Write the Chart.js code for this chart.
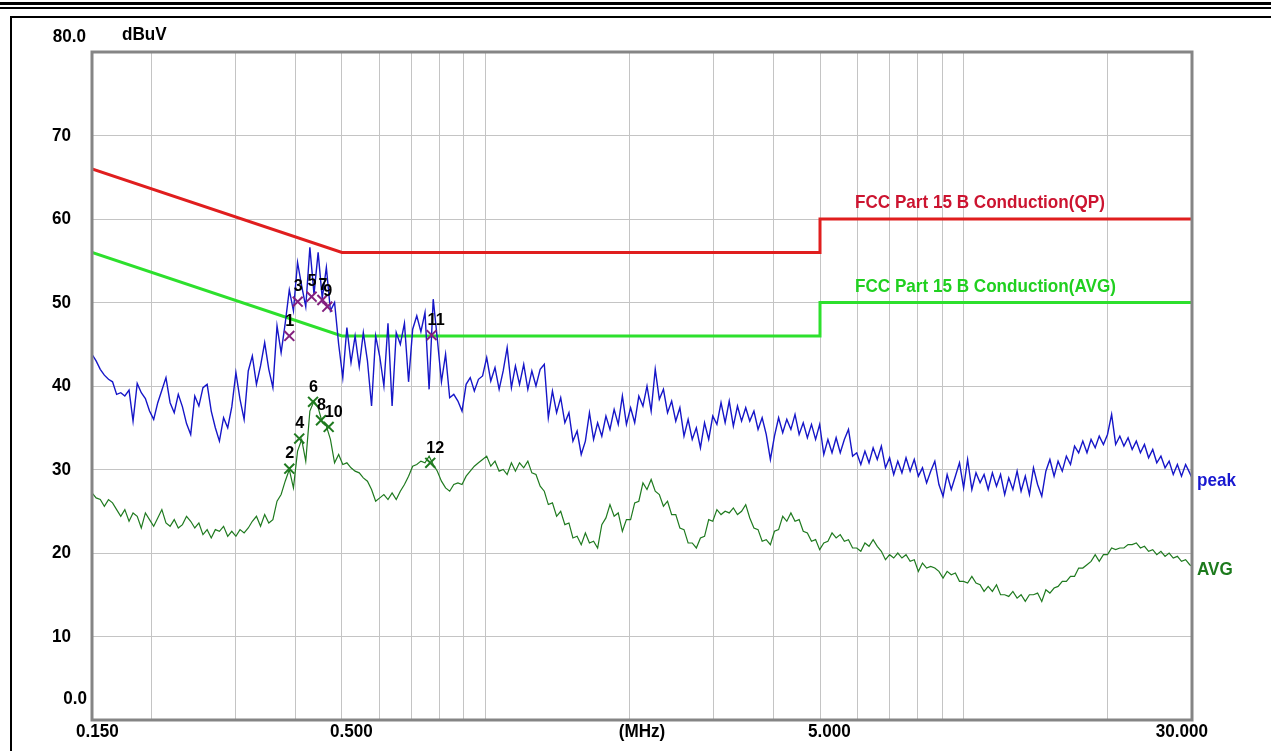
<!DOCTYPE html>
<html>
<head>
<meta charset="utf-8">
<title>Conducted emission scan</title>
<script src="https://cdn.jsdelivr.net/npm/chart.js@4/dist/chart.umd.min.js"></script>
<style>
  html, body { margin: 0; padding: 0; background: #ffffff; }
  #wrap { width: 1271px; height: 751px; position: relative; }
  canvas { display: block; }
</style>
</head>
<body>
<div id="wrap"><canvas id="scan" width="1271" height="751"></canvas></div>
<script>
// Sweep frequencies (MHz) shared by both detector traces
const sweepMHz = [
  0.1500,0.1530,0.1561,0.1592,0.1624,0.1656,0.1689,0.1723,0.1757,0.1793,
  0.1828,0.1865,0.1902,0.1940,0.1979,0.2019,0.2059,0.2100,0.2142,0.2185,
  0.2229,0.2273,0.2319,0.2365,0.2413,0.2461,0.2510,0.2560,0.2612,0.2664,
  0.2717,0.2771,0.2827,0.2884,0.2941,0.3000,0.3060,0.3121,0.3184,0.3247,
  0.3312,0.3378,0.3446,0.3515,0.3585,0.3657,0.3730,0.3804,0.3880,0.3958,
  0.4037,0.4118,0.4200,0.4284,0.4370,0.4458,0.4547,0.4638,0.4730,0.4825,
  0.4921,0.5020,0.5120,0.5223,0.5327,0.5434,0.5542,0.5653,0.5766,0.5881,
  0.5999,0.6119,0.6241,0.6366,0.6494,0.6623,0.6756,0.6891,0.7029,0.7169,
  0.7313,0.7459,0.7608,0.7760,0.7916,0.8074,0.8236,0.8400,0.8568,0.8740,
  0.8915,0.9093,0.9275,0.9460,0.9650,0.9843,1.004,1.024,1.045,1.066,
  1.087,1.108,1.131,1.153,1.176,1.200,1.224,1.248,1.273,1.299,
  1.325,1.351,1.378,1.406,1.434,1.463,1.492,1.521,1.552,1.583,
  1.615,1.647,1.680,1.713,1.748,1.783,1.818,1.855,1.892,1.930,
  1.968,2.008,2.048,2.089,2.131,2.173,2.217,2.261,2.306,2.352,
  2.399,2.447,2.496,2.546,2.597,2.649,2.702,2.756,2.811,2.867,
  2.925,2.983,3.043,3.104,3.166,3.229,3.294,3.360,3.427,3.496,
  3.565,3.637,3.710,3.784,3.859,3.937,4.015,4.096,4.178,4.261,
  4.346,4.433,4.522,4.612,4.705,4.799,4.895,4.992,5.092,5.194,
  5.298,5.404,5.512,5.622,5.735,5.850,5.967,6.086,6.208,6.332,
  6.458,6.588,6.719,6.854,6.991,7.131,7.273,7.419,7.567,7.718,
  7.873,8.030,8.191,8.355,8.522,8.692,8.866,9.044,9.224,9.409,
  9.597,9.789,9.985,10.18,10.39,10.60,10.81,11.02,11.24,11.47,
  11.70,11.93,12.17,12.41,12.66,12.92,13.17,13.44,13.71,13.98,
  14.26,14.55,14.84,15.13,15.44,15.74,16.06,16.38,16.71,17.04,
  17.38,17.73,18.09,18.45,18.82,19.19,19.58,19.97,20.37,20.77,
  21.19,21.61,22.05,22.49,22.94,23.40,23.86,24.34,24.83,25.32,
  25.83,26.35,26.87,27.41,27.96,28.52,29.09,29.67,30.00
];

// Peak detector trace (dBuV)
const peakLevel = [
  43.8,43.0,42.0,41.3,40.8,40.5,39.0,39.2,38.8,39.5,
  35.8,40.3,39.2,38.5,37.0,36.0,38.0,39.5,41.0,38.0,
  36.8,39.0,37.5,35.5,34.2,38.8,37.6,39.8,40.2,37.0,
  35.0,33.4,36.2,35.0,37.5,41.6,38.4,36.0,41.8,43.6,
  40.2,42.4,45.2,42.0,39.8,47.2,44.0,47.5,51.5,49.0,
  54.8,52.0,49.5,56.6,51.0,56.0,50.5,54.2,49.0,50.0,
  45.0,41.0,47.0,42.8,46.0,42.3,46.4,43.0,37.6,46.0,
  43.5,40.0,47.5,37.6,46.4,45.0,47.5,40.5,46.8,48.4,
  46.5,48.8,39.6,50.4,45.6,40.5,43.8,38.6,39.0,38.2,
  37.0,40.2,41.0,39.4,40.8,41.2,43.4,40.6,42.2,39.6,
  41.8,44.6,39.8,42.4,40.2,42.6,39.6,41.8,40.0,42.0,
  42.6,36.2,39.4,36.8,38.6,35.6,36.8,33.4,34.6,31.8,
  33.4,36.8,33.6,35.6,34.0,36.4,34.8,37.2,35.4,38.8,
  35.4,37.4,35.6,38.8,37.6,40.0,37.0,42.0,38.4,39.6,
  36.8,38.2,35.8,37.4,34.0,36.0,33.6,35.0,32.6,35.6,
  33.6,36.4,35.4,38.0,35.6,38.2,35.2,37.6,35.8,37.4,
  35.8,37.0,34.8,36.2,34.2,31.2,34.0,36.2,34.4,36.0,
  34.8,36.6,34.2,35.6,33.8,35.4,33.6,35.4,31.8,33.6,
  32.0,33.8,32.0,33.6,34.8,31.6,32.0,30.6,32.2,30.8,
  32.6,31.2,32.8,30.2,31.4,29.4,31.0,29.6,31.4,29.8,
  31.2,29.2,30.2,28.4,29.8,31.0,28.2,26.8,29.4,27.6,
  29.2,30.8,27.8,31.2,27.6,29.6,28.4,29.4,27.6,29.6,
  28.0,29.4,27.0,29.0,27.6,29.8,27.4,29.2,27.0,30.2,
  28.2,26.8,29.8,31.2,29.2,31.0,29.8,31.6,30.6,32.8,
  32.0,33.4,32.0,33.6,32.6,34.0,33.0,34.2,36.6,33.0,
  34.0,32.8,33.8,32.4,33.4,32.0,33.0,31.4,32.4,30.8,
  31.6,30.2,31.0,29.4,30.6,29.2,30.6,29.6,29.0
];

// Average detector trace (dBuV)
const avgLevel = [
  27.2,26.6,26.4,25.6,26.4,26.0,25.2,24.4,25.2,23.8,
  24.8,24.4,23.0,24.8,24.0,23.2,24.2,25.2,23.6,23.2,
  24.0,23.0,23.4,24.4,23.8,23.0,23.6,22.2,22.8,21.8,
  22.8,22.6,23.2,22.0,22.6,22.0,22.8,22.4,23.0,23.8,
  24.4,23.2,24.6,23.6,24.0,26.2,27.0,28.6,30.0,27.8,
  32.2,33.6,31.0,37.0,38.2,37.4,35.6,35.2,33.6,30.8,
  31.8,30.6,30.8,30.2,29.8,29.6,29.0,28.6,27.6,26.2,
  26.6,27.0,26.4,27.2,26.4,27.4,28.2,29.2,30.4,30.6,
  31.0,30.8,31.6,30.6,29.8,28.6,27.8,27.4,28.2,28.4,
  28.2,29.2,29.8,30.4,30.8,31.2,31.6,30.4,31.0,29.8,
  30.0,29.4,30.8,29.8,30.8,30.2,31.0,29.6,29.4,28.0,
  27.4,25.8,26.0,24.4,25.0,23.4,23.6,21.8,22.0,21.0,
  22.4,21.2,21.4,20.6,23.4,24.2,25.8,24.4,24.8,22.6,
  24.0,24.0,26.0,26.2,28.4,27.6,28.8,27.4,27.0,25.6,
  26.2,24.6,24.6,23.0,22.8,21.2,21.2,20.6,21.8,22.0,
  24.0,23.8,25.2,24.6,25.0,24.8,25.4,24.6,25.0,25.8,
  24.2,23.0,22.8,21.4,21.6,21.0,22.6,22.8,24.4,23.8,
  24.8,23.8,24.0,22.6,22.4,21.4,21.6,20.4,21.2,21.4,
  22.4,21.8,22.2,21.4,21.6,20.6,20.6,20.2,21.2,20.8,
  21.6,20.8,20.2,19.2,19.8,19.4,20.0,19.4,19.8,19.0,
  19.2,17.8,18.8,18.2,18.4,18.2,17.8,17.0,17.8,17.4,
  17.6,16.6,16.6,16.4,17.2,16.4,16.2,15.4,16.0,15.4,
  16.2,15.0,15.0,14.8,15.4,14.6,15.0,14.2,15.0,15.0,
  15.2,14.2,15.6,15.2,15.8,16.0,16.6,16.6,17.2,17.2,
  18.2,18.2,18.6,19.0,19.8,19.0,19.8,19.8,20.6,20.4,
  20.6,20.6,21.0,21.0,21.2,20.6,20.8,20.2,20.4,19.8,
  20.2,19.6,20.0,19.4,19.6,19.0,19.2,18.6,18.4
];

// FCC Part 15 B conducted limits
const limitMHz = [0.15, 0.5, 5, 5, 30];
const qpLimit  = [66, 56, 56, 60, 60];
const avLimit  = [56, 46, 46, 50, 50];
const qpLimitName = 'FCC Part 15 B Conduction(QP)';
const avLimitName = 'FCC Part 15 B Conduction(AVG)';

// Numbered markers: odd numbers sit on the peak trace, even on the average trace
const markerNo    = [1, 2, 3, 4, 5, 6, 7, 8, 9, 10, 11, 12];
const markerMHz   = [0.388, 0.388, 0.404, 0.407, 0.432, 0.435, 0.455, 0.452, 0.466, 0.469, 0.770, 0.765];
const markerLevel = [46.0, 30.1, 50.1, 33.7, 50.7, 38.1, 50.3, 35.9, 49.5, 35.1, 46.1, 30.8];

// Axis grid and labels
const gridMHz = [0.15, 0.2, 0.3, 0.4, 0.5, 0.6, 0.7, 0.8, 0.9, 1, 2, 3, 4, 5, 6, 7, 8, 9, 10, 20, 30];
const yTicks = [0, 10, 20, 30, 40, 50, 60, 70, 80];
const yTickText = ['0.0', '10', '20', '30', '40', '50', '60', '70', '80.0'];
const xLabelMHz = [0.15, 0.5, 5, 30];
const xLabelText = ['0.150', '0.500', '5.000', '30.000'];
const xUnit = '(MHz)';
const yUnit = 'dBuV';

const FONT_FACE = "'Liberation Sans', Arial, Helvetica, sans-serif";
const AXIS_FONT = 'bold 19px ' + FONT_FACE;
const MARK_FONT = 'bold 17px ' + FONT_FACE;
const NARROW = 0.9;   // horizontal squeeze for the condensed instrument lettering

function pts(xs, ys) { return xs.map((x, i) => ({ x: x, y: ys[i] })); }

const peakMarkers = [], avgMarkers = [];
markerNo.forEach((n, i) => {
  const p = { x: markerMHz[i], y: markerLevel[i] };
  (n % 2 === 1 ? peakMarkers : avgMarkers).push(p);
});

// Condensed text: measured, then drawn with a horizontal scale
function text(ctx, s, x, y, font, color, align, sx) {
  ctx.save();
  ctx.font = font;
  ctx.fillStyle = color;
  ctx.textAlign = 'left';
  ctx.textBaseline = 'middle';
  const k = sx || NARROW;
  const w = ctx.measureText(s).width * k;
  const x0 = align === 'right' ? x - w : align === 'center' ? x - w / 2 : x;
  ctx.translate(x0, y);
  ctx.scale(k, 1);
  ctx.fillText(s, 0, 0);
  ctx.restore();
}

const decorations = {
  id: 'decorations',
  beforeDraw(chart) {
    const ctx = chart.ctx;
    ctx.save();
    ctx.fillStyle = '#ffffff';
    ctx.fillRect(0, 0, chart.width, chart.height);
    ctx.fillStyle = '#000000';
    ctx.fillRect(0, 2, chart.width, 3);
    ctx.fillRect(0, 7, chart.width, 2);
    ctx.fillRect(10, 16, chart.width - 10, 2);
    ctx.fillRect(10, 16, 2, chart.height - 16);
    ctx.restore();
  },
  afterDatasetsDraw(chart) {
    const ctx = chart.ctx;
    const a = chart.chartArea;
    const xs = chart.scales.x, ys = chart.scales.y;

    // plot frame
    ctx.save();
    ctx.strokeStyle = '#858585';
    ctx.lineWidth = 3;
    ctx.strokeRect(a.left, a.top, a.right - a.left, a.bottom - a.top);
    ctx.restore();

    // y tick labels
    yTicks.forEach((v, i) => {
      const y = ys.getPixelForValue(v);
      if (i === yTicks.length - 1) text(ctx, yTickText[i], a.left - 6, y - 15, AXIS_FONT, '#000', 'right');
      else if (i === 0) text(ctx, yTickText[i], a.left - 5, y - 21, AXIS_FONT, '#000', 'right');
      else text(ctx, yTickText[i], a.left - 21, y, AXIS_FONT, '#000', 'right');
    });
    text(ctx, yUnit, a.left + 30, ys.getPixelForValue(80) - 17, AXIS_FONT, '#000', 'left');

    // x tick labels
    const xLabY = a.bottom + 12;
    xLabelMHz.forEach((f, i) => {
      const x = xs.getPixelForValue(f);
      if (i === 0) text(ctx, xLabelText[i], x - 16, xLabY, AXIS_FONT, '#000', 'left');
      else if (i === xLabelMHz.length - 1) text(ctx, xLabelText[i], x + 16, xLabY, AXIS_FONT, '#000', 'right');
      else text(ctx, xLabelText[i], x - 12, xLabY, AXIS_FONT, '#000', 'left');
    });
    text(ctx, xUnit, (a.left + a.right) / 2, xLabY, AXIS_FONT, '#000', 'center');

    // limit names
    const x5 = xs.getPixelForValue(limitMHz[3]);
    text(ctx, qpLimitName, x5 + 35, ys.getPixelForValue(qpLimit[4]) - 16, AXIS_FONT, '#cc1430', 'left');
    text(ctx, avLimitName, x5 + 35, ys.getPixelForValue(avLimit[4]) - 16, AXIS_FONT, '#20d020', 'left');

    // trace names at the right end
    const last = sweepMHz.length - 1;
    text(ctx, 'peak', a.right + 5, ys.getPixelForValue(peakLevel[last]) + 3, AXIS_FONT, '#1818d0', 'left');
    text(ctx, 'AVG', a.right + 5, ys.getPixelForValue(avgLevel[last]) + 3, AXIS_FONT, '#1c7a1c', 'left');

    // marker numbers
    markerNo.forEach((n, i) => {
      const x = xs.getPixelForValue(markerMHz[i]);
      const y = ys.getPixelForValue(markerLevel[i]);
      text(ctx, String(n), x - 4, y - 15, MARK_FONT, '#000', 'left', 0.95);
    });
  }
};

new Chart(document.getElementById('scan'), {
  type: 'line',
  data: {
    datasets: [
      { label: 'peak markers', data: peakMarkers, showLine: false, pointStyle: 'crossRot',
        pointRadius: 7, pointBorderWidth: 2, pointBorderColor: '#84207e', pointBackgroundColor: '#84207e', order: 0 },
      { label: 'AVG markers', data: avgMarkers, showLine: false, pointStyle: 'crossRot',
        pointRadius: 7, pointBorderWidth: 2, pointBorderColor: '#1f7a1f', pointBackgroundColor: '#1f7a1f', order: 0 },
      { label: 'peak', data: pts(sweepMHz, peakLevel), borderColor: '#1616c8', borderWidth: 1.4,
        pointRadius: 0, tension: 0, order: 1 },
      { label: 'AVG', data: pts(sweepMHz, avgLevel), borderColor: '#1f7a1f', borderWidth: 1.2,
        pointRadius: 0, tension: 0, order: 2 },
      { label: qpLimitName, data: pts(limitMHz, qpLimit), borderColor: '#e01e1e', borderWidth: 3,
        pointRadius: 0, tension: 0, order: 3 },
      { label: avLimitName, data: pts(limitMHz, avLimit), borderColor: '#2de02d', borderWidth: 3,
        pointRadius: 0, tension: 0, order: 3 }
    ]
  },
  options: {
    responsive: false,
    animation: false,
    devicePixelRatio: 1,
    events: [],
    layout: { padding: { left: 92, top: 52, right: 79, bottom: 31 } },
    plugins: { legend: { display: false }, tooltip: { enabled: false } },
    scales: {
      x: {
        type: 'logarithmic', min: 0.15, max: 30,
        ticks: { display: false },
        grid: { color: '#c4c4c4', lineWidth: 1, drawTicks: false },
        border: { display: false },
        afterBuildTicks: s => { s.ticks = gridMHz.map(v => ({ value: v })); }
      },
      y: {
        type: 'linear', min: 0, max: 80,
        ticks: { display: false },
        grid: { color: '#c4c4c4', lineWidth: 1, drawTicks: false },
        border: { display: false },
        afterBuildTicks: s => { s.ticks = yTicks.map(v => ({ value: v })); }
      }
    }
  },
  plugins: [decorations]
});
</script>
</body>
</html>
